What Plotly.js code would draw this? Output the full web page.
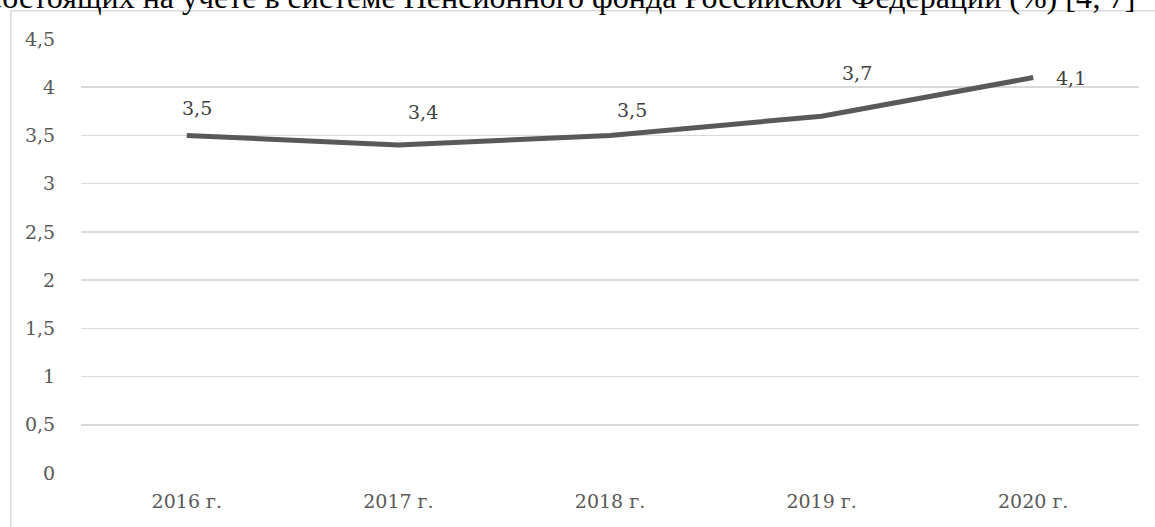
<!DOCTYPE html>
<html>
<head>
<meta charset="utf-8">
<script src="https://cdn.plot.ly/plotly-3.0.1.min.js"></script>
<style>
html,body{margin:0;padding:0;background:#fff;}
#chart{width:1155px;height:527px;}
</style>
</head>
<body>
<div id="chart"></div>
<script>
const categories = ["2016 г.", "2017 г.", "2018 г.", "2019 г.", "2020 г."];
const values = [3.5, 3.4, 3.5, 3.7, 4.1];
const yTicks = [0, 0.5, 1, 1.5, 2, 2.5, 3, 3.5, 4, 4.5];
const titleText = "состоящих на учете в системе Пенсионного фонда Российской Федерации (%) [4; 7]";

// label offsets in pixels (layout only)
const labelShift = [[10, 27], [25, 33], [22, 25], [35, 43], [38, 0]];

const W = 1155, H = 527;
const M = {l: 81, r: 16, t: 39, b: 54};
const pw = W - M.l - M.r, ph = H - M.t - M.b;
const px2x = p => (p - M.l) / pw;
const px2y = p => (H - M.b - p) / ph;

const serif = "DejaVu Serif, Liberation Serif, serif";
const labelFont = {family: serif, size: 19, color: "#404040"};

const annotations = values.map((v, i) => ({
  x: categories[i], y: v, xref: "x", yref: "y",
  text: String(v).replace(".", ","),
  showarrow: false,
  xanchor: "center", yanchor: "middle",
  xshift: labelShift[i][0], yshift: labelShift[i][1],
  font: labelFont
}));
annotations.push({
  xref: "paper", yref: "paper",
  x: px2x(-14), y: px2y(17),
  xanchor: "left", yanchor: "bottom",
  text: titleText, showarrow: false,
  font: {family: "Liberation Serif, Times New Roman, serif", size: 32, color: "#000"}
});

const trace = {
  type: "scatter", mode: "lines",
  x: categories, y: values,
  line: {color: "#595959", width: 5, shape: "linear"},
  hoverinfo: "skip"
};

const layout = {
  width: W, height: H,
  margin: M,
  paper_bgcolor: "#fff", plot_bgcolor: "#fff",
  separators: ", ",
  showlegend: false,
  xaxis: {
    type: "category", range: [-0.5, 4.5],
    showgrid: false, zeroline: false, showline: false,
    ticks: "outside", ticklen: 11, tickcolor: "rgba(0,0,0,0)",
    tickfont: {family: serif, size: 19, color: "#595959"}
  },
  yaxis: {
    range: [0, 4.5], tickvals: yTicks,
    showgrid: true, gridcolor: "#d9d9d9", gridwidth: 1.5,
    zeroline: false, showline: false,
    ticks: "outside", ticklen: 21, tickcolor: "rgba(0,0,0,0)",
    tickfont: {family: serif, size: 19, color: "#595959"}
  },
  shapes: [
    {type: "line", xref: "paper", yref: "paper", x0: px2x(10.7), x1: px2x(10.7), y0: px2y(10.7), y1: px2y(540), line: {color: "#d9d9d9", width: 1.5}},
    {type: "line", xref: "paper", yref: "paper", x0: px2x(10.7), x1: px2x(1170), y0: px2y(10.7), y1: px2y(10.7), line: {color: "#d9d9d9", width: 1.5}}
  ],
  annotations: annotations
};

Plotly.newPlot("chart", [trace], layout, {displayModeBar: false, staticPlot: true});
</script>
</body>
</html>
